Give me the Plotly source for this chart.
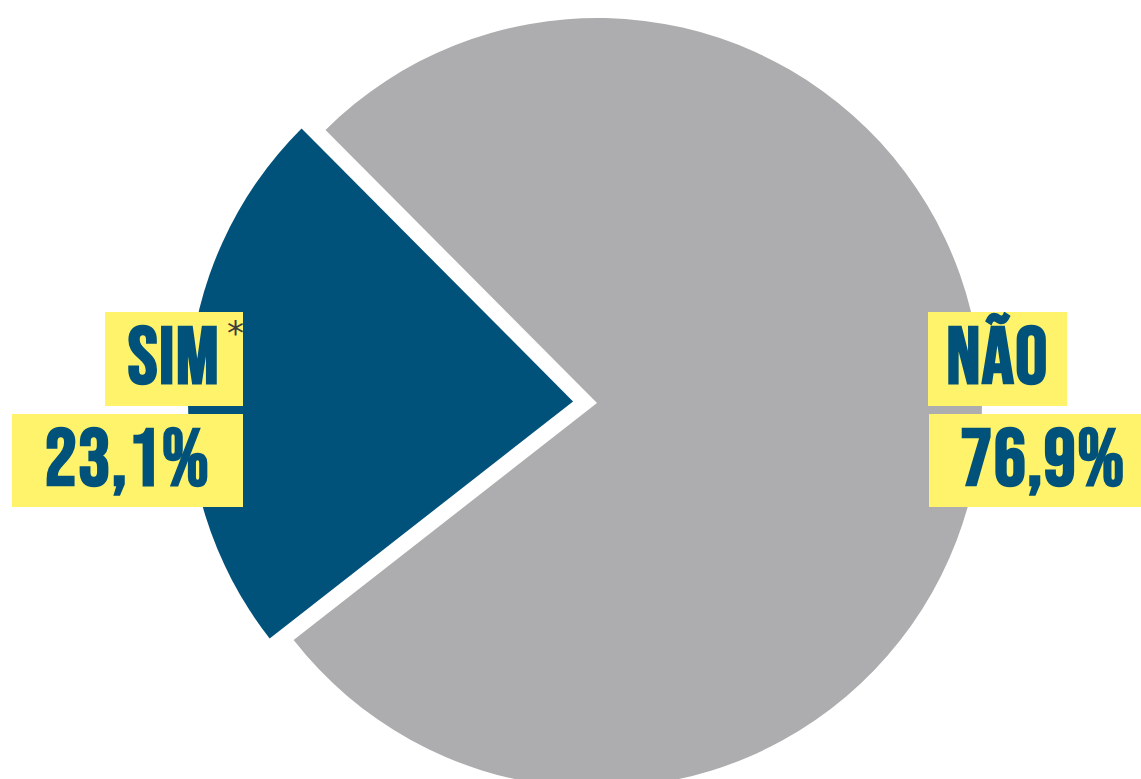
import math
import plotly.graph_objects as go

# Survey answer shares (percent)
labels = ["SIM", "NÃO"]
values = [23.1, 76.9]
value_text = ["23,1%", "76,9%"]

BLUE = "#00527b"
GRAY = "#adadaf"
YELLOW = "#fef36b"
CLEAR = "rgba(0,0,0,0)"

W, H = 1141, 806          # figure is a bit taller than the view; the pie bottom runs off-screen
CX, CY, R = 597, 403, 385  # pie centre and radius in pixels
PULL = 0.0623              # how far the "SIM" slice is pulled out, as a fraction of R
ROTATION = 232             # start angle of the first slice (degrees clockwise from 12 o'clock)

# offset of the pulled slice along its bisector
mid = math.radians(ROTATION + 360 * values[0] / sum(values) / 2)
dx, dy = PULL * R * math.sin(mid), -PULL * R * math.cos(mid)


def pie_domain(cx, cy):
    top = cy - R
    box_h = 2 * cy if top >= 0 else 2 * R
    return dict(x=[(cx - R) / W, (cx + R) / W],
                y=[1 - box_h / H, 1.0])


common = dict(labels=labels, values=values, sort=False, direction="clockwise",
              rotation=ROTATION, textinfo="none", hoverinfo="label+percent",
              showlegend=False)

fig = go.Figure()
# "NÃO" slice, full-size pie at the centre
fig.add_trace(go.Pie(**common, domain=pie_domain(CX, CY),
                     marker=dict(colors=[CLEAR, GRAY], line=dict(width=0))))
# "SIM" slice, same pie shifted outwards along the slice bisector
fig.add_trace(go.Pie(**common, domain=pie_domain(CX + dx, CY + dy),
                     marker=dict(colors=[BLUE, CLEAR], line=dict(width=0))))

FONT = dict(family="Bebas Neue, Oswald, Roboto Condensed, sans-serif", size=80,
            weight="bold", color=BLUE)


def label_box(text, left, top, width, height):
    return dict(text=f'<span style="letter-spacing:1.5px">{text}</span>',
                xref="paper", yref="paper", x=left / W, y=1 - top / H,
                xanchor="left", yanchor="top", width=width, height=height,
                align="center", valign="middle", showarrow=False,
                bgcolor=YELLOW, borderpad=0, borderwidth=0, font=FONT)


annotations = [
    label_box(labels[0], 105, 312, 138, 94),
    label_box(value_text[0], 12, 414, 231, 93),
    label_box(labels[1], 928, 312, 139, 94),
    label_box(value_text[1], 929, 414, 228, 93),
    dict(text="*", xref="paper", yref="paper", x=235 / W, y=1 - 311 / H,
         xanchor="center", yanchor="top", showarrow=False,
         font=dict(family="DejaVu Sans", size=34, color="#3d3d3d")),
]

fig.update_layout(width=W, height=H, margin=dict(l=0, r=0, t=0, b=0),
                  paper_bgcolor="white", plot_bgcolor="white",
                  annotations=annotations)

fig.write_html("out.html")
